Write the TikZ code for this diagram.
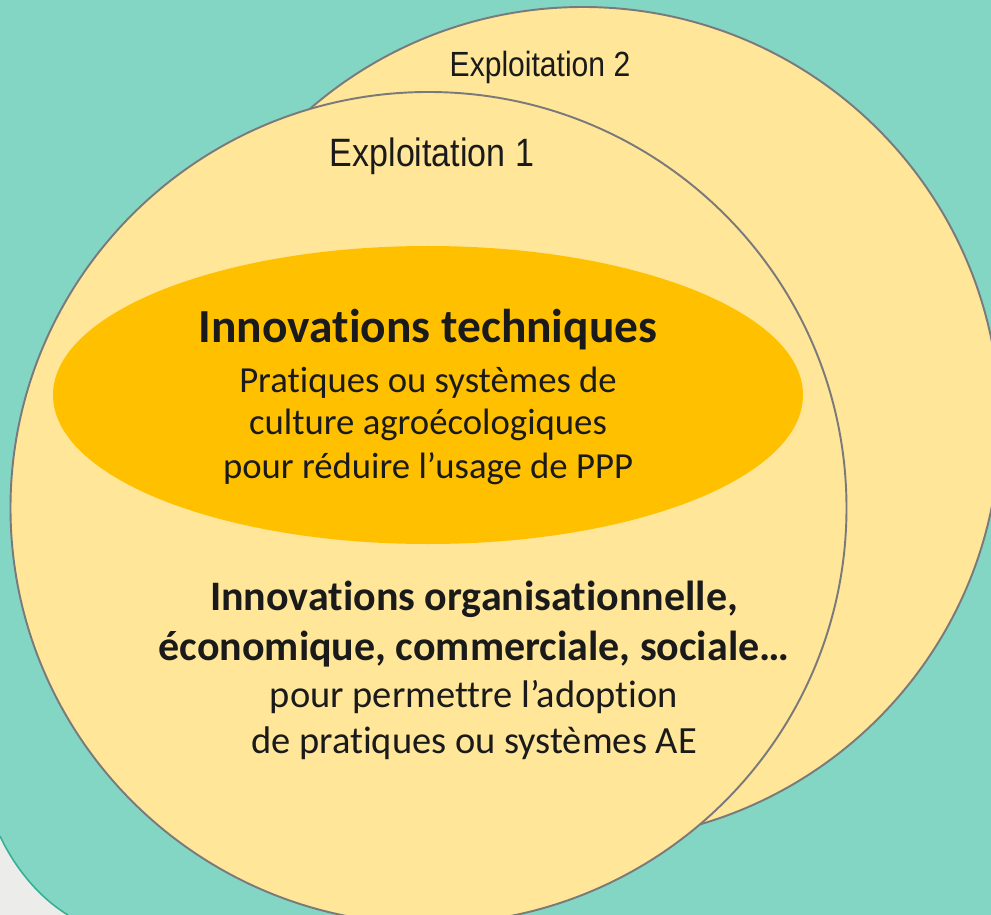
\documentclass[tikz,border=0pt]{standalone}
\usepackage{fontspec}
\setmainfont{Carlito}[Ligatures=NoCommon]
\newfontfamily\farmfont[FakeStretch=0.86]{Liberation Sans}
\usetikzlibrary{shapes.geometric}

\definecolor{lagoon}{HTML}{84D6C4}
\definecolor{lagoonedge}{HTML}{35B096}
\definecolor{paper}{HTML}{ECECEA}
\definecolor{farmfill}{HTML}{FFE699}
\definecolor{techfill}{HTML}{FFC000}
\definecolor{rim}{HTML}{7A7A7A}
\definecolor{ink}{HTML}{1A1A1A}

\begin{document}
\begin{tikzpicture}[x=0.2mm, y=-0.2mm,
  farm/.style={ellipse, draw=rim, fill=farmfill, line width=1.1pt, inner sep=0pt},
  line/.style={anchor=base, text=ink, inner sep=0pt},
  head/.style={line, font=\bfseries\fontsize{#1}{#1}\selectfont},
  body/.style={line, font=\fontsize{#1}{#1}\selectfont}]
\useasboundingbox (0, 0) rectangle (991, 915);
\clip (0, 0) rectangle (991, 915);
\fill [lagoon] (0, 0) rectangle (991, 915);
\fill [paper] (0, 836) .. controls (12, 862) and (35, 895) .. (68, 915) -- (0, 915) -- cycle;
\draw [lagoonedge, line width=0.9pt] (0, 836) .. controls (12, 862) and (35, 895) .. (68, 915);

\node [farm, minimum width=166.8mm, minimum height=166.8mm] (farm2) at (583, 424) {};
\node [farm, minimum width=167.2mm, minimum height=166.4mm] (farm1) at (428.5, 508) {};
\node [ellipse, fill=techfill, inner sep=0pt, minimum width=150mm, minimum height=59.6mm] (tech) at (428, 395) {};

\node [line, font=\farmfont\fontsize{19.9}{24}\selectfont] (farm2label) at (540, 77) {Exploitation 2};
\node [line, font=\farmfont\fontsize{22.5}{27}\selectfont] (farm1label) at (432, 167) {Exploitation 1};

\node [head=27] (techtitle) at (428, 343) {Innovations techniques};
\node [body=20.9] (tech1) at (428, 392) {Pratiques ou systèmes de};
\node [body=20.9] (tech2) at (428, 435) {culture agroécologiques};
\node [body=20.9] (tech3) at (428, 478) {pour réduire l’usage de PPP};

\node [head=23.9] (orgtitle1) at (474, 610) {Innovations organisationnelle,};
\node [head=23.9] (orgtitle2) at (474, 660) {économique, commerciale, sociale…};
\node [body=21.9] (org1) at (474, 707) {pour permettre l’adoption};
\node [body=21.9] (org2) at (474, 753) {de pratiques ou systèmes AE};
\end{tikzpicture}
\end{document}
